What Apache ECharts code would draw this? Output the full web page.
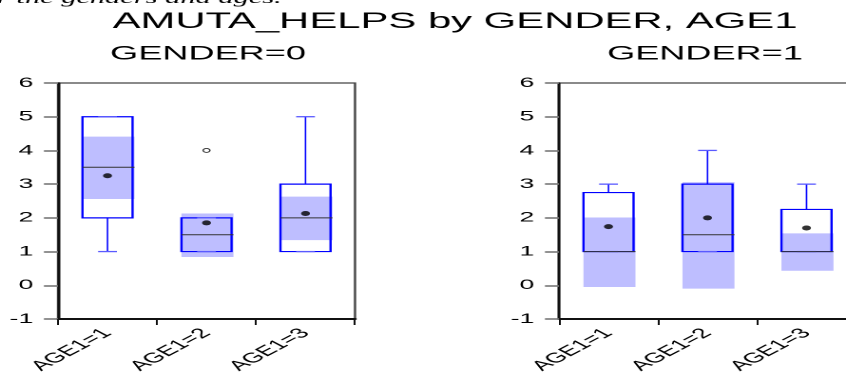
<!DOCTYPE html>
<html>
<head>
<meta charset="utf-8">
<script src="https://cdn.jsdelivr.net/npm/echarts@6/dist/echarts.min.js"></script>
<style>
  html, body { margin: 0; padding: 0; background: #fff; overflow: hidden; }
  /* The figure is laid out on a narrow canvas and widened horizontally,
     as it appears in the report page it was pasted into. */
  #chart { width: 445px; height: 374px; transform-origin: 0 0; }
</style>
</head>
<body>
<div id="chart"></div>
<script>
// Categories shared by both panels
const categories = ['AGE1=1', 'AGE1=2', 'AGE1=3'];
const yTicks = [-1, 0, 1, 2, 3, 4, 5, 6];

// GENDER=0 summary statistics
const g0WhiskerLow = [1, 1, 1];
const g0Q1 = [2, 1, 1];
const g0Median = [3.5, 1.5, 2];
const g0Q3 = [5, 2, 3];
const g0WhiskerHigh = [5, 2, 5];
const g0Mean = [3.25, 1.85, 2.13];
const g0MedianCiLow = [2.56, 0.84, 1.34];
const g0MedianCiHigh = [4.41, 2.13, 2.63];
const g0Outliers = [[1, 4]];

// GENDER=1 summary statistics
const g1WhiskerLow = [1, 1, 1];
const g1Q1 = [1, 1, 1];
const g1Median = [1, 1.5, 1];
const g1Q3 = [2.75, 3, 2.25];
const g1WhiskerHigh = [3, 4, 3];
const g1Mean = [1.74, 2.0, 1.70];
const g1MedianCiLow = [-0.05, -0.1, 0.43];
const g1MedianCiHigh = [2.01, 3.06, 1.54];
const g1Outliers = [];

const STRETCH = 846 / 445;
document.getElementById('chart').style.transform = 'scaleX(' + STRETCH + ')';

const BLUE = '#0000ff';
const CAP = '#5a5aff';
const SHADE = '#bebeff';
const FONT = '"Liberation Sans", Arial, sans-serif';

function boxRows(low, q1, med, q3, high, ciLo, ciHi) {
  return categories.map((c, i) => [i, low[i], q1[i], med[i], q3[i], high[i], ciLo[i], ciHi[i]]);
}

function renderBox(params, api) {
  const i = api.value(0);
  const band = api.size([1, 0])[0];
  const hw = band * 0.253;
  const capHw = band * 0.095;
  const cx = api.coord([i, 0])[0];
  const y = v => api.coord([i, v])[1];
  const yLow = y(api.value(1)), yQ1 = y(api.value(2)), yMed = y(api.value(3));
  const yQ3 = y(api.value(4)), yHigh = y(api.value(5));
  const yCiLo = y(api.value(6)), yCiHi = y(api.value(7));
  const x0 = cx - hw, x1 = cx + hw;
  return {
    type: 'group',
    children: [
      { type: 'rect', shape: { x: x0, y: yCiHi, width: x1 - x0 + 1, height: yCiLo - yCiHi },
        style: { fill: SHADE } },
      { type: 'rect', shape: { x: x0, y: yQ3, width: x1 - x0, height: yQ1 - yQ3 },
        style: { fill: null, stroke: BLUE, lineWidth: 1.2 } },
      { type: 'line', shape: { x1: cx, y1: yQ3, x2: cx, y2: yHigh },
        style: { stroke: BLUE, lineWidth: 0.8 } },
      { type: 'line', shape: { x1: cx, y1: yQ1, x2: cx, y2: yLow },
        style: { stroke: BLUE, lineWidth: 0.8 } },
      { type: 'line', shape: { x1: cx - capHw, y1: yHigh, x2: cx + capHw, y2: yHigh },
        style: { stroke: CAP, lineWidth: 1.3 } },
      { type: 'line', shape: { x1: cx - capHw, y1: yLow, x2: cx + capHw, y2: yLow },
        style: { stroke: CAP, lineWidth: 1.3 } },
      { type: 'line', shape: { x1: x0, y1: yMed, x2: x1 + 1, y2: yMed },
        style: { stroke: '#333', lineWidth: 1 } }
    ]
  };
}

function panelAxes(gridIndex) {
  return {
    x: {
      type: 'category', gridIndex, data: categories, boundaryGap: true,
      axisLine: { onZero: false, lineStyle: { color: '#111', width: 2 } },
      axisTick: { show: true, length: 6, lineStyle: { color: '#111', width: 1 } },
      axisLabel: { rotate: 45, margin: 12, color: '#000', fontFamily: FONT, fontSize: 14 },
      splitLine: { show: false }
    },
    y: {
      type: 'value', gridIndex, min: yTicks[0], max: yTicks[yTicks.length - 1], interval: 1,
      axisLine: { show: true, lineStyle: { color: '#111', width: 1.5 } },
      axisTick: { show: true, length: 7.4, lineStyle: { color: '#777', width: 1.6 } },
      axisLabel: { margin: 13, color: '#000', fontFamily: FONT, fontSize: 14 },
      splitLine: { show: false }
    }
  };
}

const a0 = panelAxes(0), a1 = panelAxes(1);

function panelSeries(idx, low, q1, med, q3, high, mean, ciLo, ciHi, outliers) {
  return [
    { type: 'custom', xAxisIndex: idx, yAxisIndex: idx, renderItem: renderBox,
      data: boxRows(low, q1, med, q3, high, ciLo, ciHi), silent: true, z: 2 },
    { type: 'scatter', xAxisIndex: idx, yAxisIndex: idx, symbol: 'circle', symbolSize: [4.7, 5],
      itemStyle: { color: '#000' }, data: mean.map((m, i) => [i, m]), silent: true, z: 4 },
    { type: 'scatter', xAxisIndex: idx, yAxisIndex: idx, symbol: 'circle', symbolSize: [3.6, 4],
      itemStyle: { color: '#fff', borderColor: '#000', borderWidth: 0.8 },
      data: outliers, silent: true, z: 4 }
  ];
}

const px = v => v / STRETCH;

const chart = echarts.init(document.getElementById('chart'), null,
                           { renderer: 'canvas', devicePixelRatio: 2 });
chart.setOption({
  animation: false,
  backgroundColor: '#fff',
  grid: [
    { left: px(58), top: 83, width: px(297), height: 236, outerBoundsMode: 'none',
      containLabel: false, show: true, borderColor: '#444', borderWidth: 1.2 },
    { left: px(559), top: 83, width: px(297), height: 236, outerBoundsMode: 'none',
      containLabel: false, show: true, borderColor: '#444', borderWidth: 1.2 }
  ],
  xAxis: [a0.x, a1.x],
  yAxis: [a0.y, a1.y],
  graphic: [
    { type: 'text', x: px(-3), y: 7, silent: true,
      style: { text: 'r the genders and ages.', font: 'italic 16px "Liberation Serif", serif',
               fill: '#000', textVerticalAlign: 'bottom' } },
    { type: 'text', x: px(455), y: 11, silent: true,
      style: { text: 'AMUTA_HELPS by GENDER, AGE1', font: '22px ' + FONT, fill: '#000',
               textAlign: 'center', textVerticalAlign: 'top' } },
    { type: 'text', x: px(208), y: 45, silent: true,
      style: { text: 'GENDER=0', font: '19px ' + FONT, fill: '#000',
               textAlign: 'center', textVerticalAlign: 'top' } },
    { type: 'text', x: px(705), y: 45, silent: true,
      style: { text: 'GENDER=1', font: '19px ' + FONT, fill: '#000',
               textAlign: 'center', textVerticalAlign: 'top' } }
  ],
  series: [
    ...panelSeries(0, g0WhiskerLow, g0Q1, g0Median, g0Q3, g0WhiskerHigh, g0Mean,
                   g0MedianCiLow, g0MedianCiHigh, g0Outliers),
    ...panelSeries(1, g1WhiskerLow, g1Q1, g1Median, g1Q3, g1WhiskerHigh, g1Mean,
                   g1MedianCiLow, g1MedianCiHigh, g1Outliers)
  ]
});
</script>
</body>
</html>
